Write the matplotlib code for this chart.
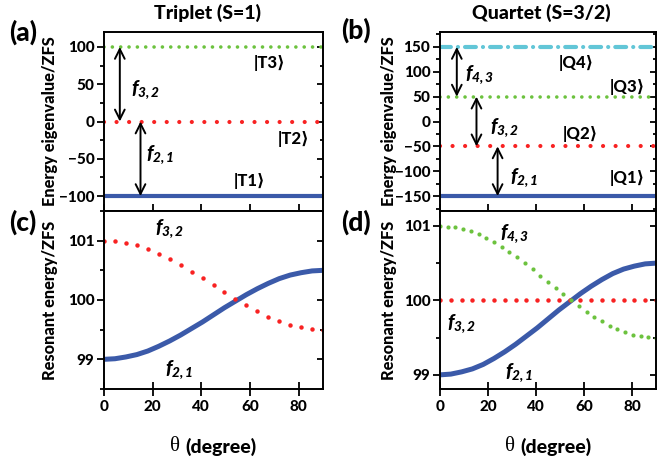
import matplotlib
matplotlib.use("Agg")
import matplotlib.pyplot as plt
from matplotlib.ticker import MultipleLocator

# ---------- data ---------- #
theta = [0, 4.5, 9, 13.5, 18, 22.5, 27, 31.5, 36, 40.5, 45, 49.5, 54,
         58.5, 63, 67.5, 72, 76.5, 81, 85.5, 90]

# resonant energies (units of ZFS)
f21 = [99.00, 99.01, 99.04, 99.08, 99.14, 99.22, 99.31, 99.41, 99.52, 99.63,
       99.75, 99.87, 99.98, 100.09, 100.19, 100.28, 100.36, 100.42, 100.46,
       100.49, 100.50]
f32_triplet = [101.00, 100.99, 100.96, 100.92, 100.86, 100.78, 100.69, 100.59,
               100.48, 100.37, 100.25, 100.13, 100.02, 99.91, 99.81, 99.72,
               99.64, 99.58, 99.54, 99.51, 99.50]
f32_quartet = [100.0] * len(theta)

theta_f43 = [0, 3.2, 6.4, 9.6, 12.9, 16.1, 19.3, 22.5, 25.7, 28.9, 32.1, 35.4,
             38.6, 41.8, 45.0, 48.2, 51.4, 54.6, 57.9, 61.1, 64.3, 67.5, 70.7,
             73.9, 77.1, 80.4, 83.6, 86.8, 90.0]
f43 = [101.00, 100.99, 100.98, 100.96, 100.93, 100.89, 100.84, 100.78, 100.72,
       100.65, 100.58, 100.50, 100.42, 100.33, 100.25, 100.17, 100.08, 100.00,
       99.93, 99.85, 99.78, 99.72, 99.66, 99.62, 99.57, 99.54, 99.52, 99.51,
       99.50]

# energy levels (units of ZFS)
triplet_levels = [-100, 0, 100]
triplet_names = ["|T1⟩", "|T2⟩", "|T3⟩"]
quartet_levels = [-150, -50, 50, 150]
quartet_names = ["|Q1⟩", "|Q2⟩", "|Q3⟩", "|Q4⟩"]

# ---------- style ---------- #
BLUE = "#3b5aa9"
RED = "#f82222"
GREEN = "#6cc23e"
CYAN = "#62c6d7"
WT = "black"

plt.rcParams["font.family"] = ["Lato", "DejaVu Sans"]
plt.rcParams["font.weight"] = WT
plt.rcParams["axes.labelweight"] = WT
plt.rcParams["mathtext.fontset"] = "custom"
plt.rcParams["mathtext.it"] = "Lato:italic:black"
plt.rcParams["mathtext.rm"] = "Lato:italic:black"
plt.rcParams["axes.linewidth"] = 1.4

fig = plt.figure(figsize=(6.6, 4.63), dpi=100)
W, H = 660, 463


def place(x0, y0, x1, y1):
    return fig.add_axes([x0 / W, 1 - y1 / H, (x1 - x0) / W, (y1 - y0) / H])


ax_a = place(104, 32, 323, 211)
ax_c = place(104, 211, 323, 389)
ax_b = place(440, 32, 656, 211)
ax_d = place(440, 211, 656, 389)


def style_axes(ax, major, minor, bottom=True):
    ax.set_xlim(0, 90)
    ax.xaxis.set_major_locator(MultipleLocator(20))
    ax.yaxis.set_major_locator(MultipleLocator(major))
    ax.yaxis.set_minor_locator(MultipleLocator(minor))
    ax.tick_params(axis="y", which="major", direction="out", length=5, width=1.3,
                   labelsize=11, pad=2)
    ax.tick_params(axis="y", which="minor", direction="out", length=3, width=1.3)
    ax.tick_params(axis="y", which="both", right=True)
    ax.tick_params(axis="x", which="major", direction="inout", length=10,
                   width=1.3, labelsize=11, pad=3, top=False,
                   labelbottom=bottom)
    ax.tick_params(axis="x", which="minor", bottom=False, top=False)
    plt.setp(ax.get_xticklabels() + ax.get_yticklabels(), fontweight=WT)
    # right side ticks point inward
    for t in ax.yaxis.get_major_ticks():
        t.tick2line.set_marker(matplotlib.lines.TICKLEFT)
        t.tick2line.set_markersize(4)
    for t in ax.yaxis.get_minor_ticks():
        t.tick2line.set_marker(matplotlib.lines.TICKLEFT)
        t.tick2line.set_markersize(2.5)


def dotted(ax, y, color, lw, gap):
    ax.axhline(y, color=color, lw=lw, linestyle=(0, (0.01, gap)),
               dash_capstyle="round")


def darrow(ax, x, y0, y1):
    ax.annotate("", xy=(x, y1), xytext=(x, y0),
                arrowprops=dict(arrowstyle="<->,head_length=0.5,head_width=0.25",
                                color="black", lw=1.4, shrinkA=0, shrinkB=0,
                                mutation_scale=14))


def flabel(ax, x, y, sub):
    ax.text(x, y, r"$f_{%s}$" % sub, fontsize=14, ha="center", va="center")


# ---------- (a) triplet levels ---------- #
ax = ax_a
ax.set_ylim(-120, 120)
ax.axhline(triplet_levels[0], color=BLUE, lw=3)
dotted(ax, triplet_levels[1], RED, 3.0, 3.0)
dotted(ax, triplet_levels[2], GREEN, 2.6, 2.3)
darrow(ax, 6.5, 100, 0)
darrow(ax, 15, 0, -100)
flabel(ax, 17, 43, "3,2")
flabel(ax, 23, -45, "2,1")
for name, lvl, x, dy in zip(triplet_names, triplet_levels, [60, 78, 68], [20, -24, -22]):
    ax.text(x, lvl + dy, name, fontsize=12, ha="center", va="center")
style_axes(ax, 50, 25, bottom=False)
ax.set_ylabel("Energy eigenvalue/ZFS", fontsize=11.8)
ax.yaxis.set_label_coords(-0.21, 0.5)

# ---------- (b) quartet levels ---------- #
ax = ax_b
ax.set_ylim(-180, 180)
ax.axhline(quartet_levels[0], color=BLUE, lw=3)
dotted(ax, quartet_levels[1], RED, 3.0, 3.0)
dotted(ax, quartet_levels[2], GREEN, 2.6, 2.3)
ax.axhline(quartet_levels[3], color=CYAN, lw=3,
           linestyle=(0, (2.6, 1.7, 0.01, 1.7)), dash_capstyle="round")
darrow(ax, 7, 150, 50)
darrow(ax, 15.2, 50, -50)
darrow(ax, 24, -50, -150)
flabel(ax, 16.5, 94, "4,3")
flabel(ax, 27, -12, "3,2")
flabel(ax, 35, -112, "2,1")
for name, lvl, x, dy in zip(quartet_names, quartet_levels, [78, 58.5, 78, 57],
                            [37, 24, 20, -33]):
    ax.text(x, lvl + dy, name, fontsize=12, ha="center", va="center")
style_axes(ax, 50, 25, bottom=False)
ax.set_ylabel("Energy eigenvalue/ZFS", fontsize=11.8)
ax.yaxis.set_label_coords(-0.20, 0.5)

# ---------- (c) triplet resonances ---------- #
ax = ax_c
ax.set_ylim(98.5, 101.5)
ax.plot(theta, f21, color=BLUE, lw=3.6, solid_capstyle="butt")
ax.plot(theta, f32_triplet, "o", color=RED, ms=3.2, mew=0)
flabel(ax, 27, 101.2, "3,2")
flabel(ax, 31, 98.83, "2,1")
style_axes(ax, 1, 0.5)
ax.set_ylabel("Resonant energy/ZFS", fontsize=11.8)
ax.yaxis.set_label_coords(-0.21, 0.5)

# ---------- (d) quartet resonances ---------- #
ax = ax_d
ax.set_ylim(98.81, 101.2)
ax.plot(theta, f21, color=BLUE, lw=3.6, solid_capstyle="butt")
ax.plot(theta, f32_quartet, "o", color=RED, ms=3.2, mew=0)
ax.plot(theta_f43, f43, "o", color=GREEN, ms=3.0, mew=0)
flabel(ax, 31, 100.9, "4,3")
flabel(ax, 9, 99.69, "3,2")
flabel(ax, 33, 99.03, "2,1")
style_axes(ax, 1, 0.5)
ax.set_ylabel("Resonant energy/ZFS", fontsize=11.8)
ax.yaxis.set_label_coords(-0.20, 0.5)

# x labels: serif theta + bold text
for ax in (ax_c, ax_d):
    ax.text(0.345, -0.325, "θ", transform=ax.transAxes, ha="right", va="center",
            fontsize=15, family="Liberation Serif", fontweight="normal")
    ax.text(0.37, -0.325, "(degree)", transform=ax.transAxes, ha="left",
            va="center", fontsize=14)

# titles and panel letters
fig.text(207 / W, 1 - 13 / H, "Triplet (S=1)", ha="center", va="center", fontsize=14)
fig.text(541 / W, 1 - 13 / H, "Quartet (S=3/2)", ha="center", va="center", fontsize=14)
for letter, x, y in [("(a)", 23, 32), ("(b)", 356, 30), ("(c)", 23, 222), ("(d)", 356, 222)]:
    fig.text(x / W, 1 - y / H, letter, ha="center", va="center", fontsize=19)

fig.savefig("out.png", dpi=100)
